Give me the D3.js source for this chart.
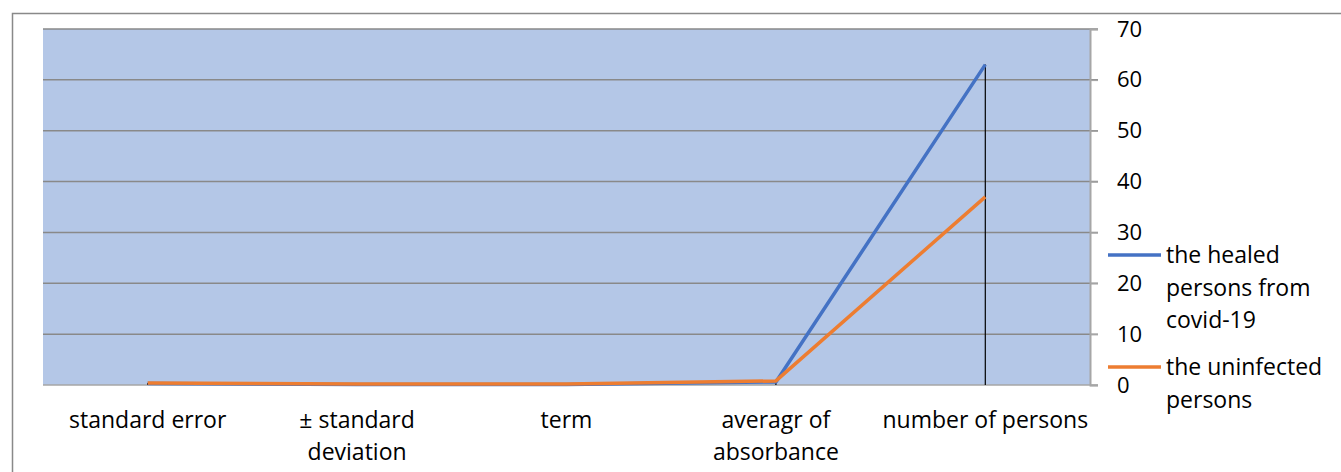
<!DOCTYPE html>
<html lang="en">
<head>
<meta charset="UTF-8">
<title>Chart</title>
<script src="https://d3js.org/d3.v7.min.js"></script>
<style>
  body { margin: 0; background: #fff; }
  text { font-family: "Open Sans", sans-serif; }
</style>
</head>
<body>
<svg width="1341" height="472"></svg>
<script>
let categories = [["standard error"], ["\u00B1 standard", "deviation"], ["term"], ["averagr of", "absorbance"], ["number of persons"]];
let healed = [0.3, 0.1, 0.1, 0.6, 63];
let uninfected = [0.4, 0.2, 0.2, 0.8, 37];
let yTicks = [0, 10, 20, 30, 40, 50, 60, 70];
let seriesNames = [["the healed", "persons from", "covid-19"], ["the uninfected", "persons"]];

let svg = d3.select("svg");

// chart frame
svg.append("rect")
  .attr("x", 12.5).attr("y", 13.5)
  .attr("width", 1340).attr("height", 470)
  .attr("fill", "#fff").attr("stroke", "#898989").attr("stroke-width", 1.5);

let pLeft = 43, pRight = 1090, pTop = 29, pBottom = 385;

let x = d3.scaleBand().domain(d3.range(categories.length)).range([pLeft, pRight]);
let y = d3.scaleLinear().domain([0, 70]).range([pBottom, pTop]);

svg.append("rect")
  .attr("x", pLeft).attr("y", pTop)
  .attr("width", pRight - pLeft).attr("height", pBottom - pTop)
  .attr("fill", "#B4C7E7");

// gridlines
svg.append("g").selectAll("line")
  .data(yTicks.filter(d => d > 0)).enter().append("line")
  .attr("x1", pLeft).attr("x2", pRight + 8)
  .attr("y1", d => y(d)).attr("y2", d => y(d))
  .attr("stroke", "#898989").attr("stroke-width", 1.5);

// right axis
let axis = svg.append("g")
  .attr("transform", `translate(${pRight},0)`)
  .call(d3.axisRight(y).tickValues(yTicks).tickSize(8).tickPadding(19));
axis.select(".domain").attr("stroke", "#A6A6A6").attr("stroke-width", 2);
axis.selectAll(".tick line").attr("stroke", "#A6A6A6").attr("stroke-width", 1.5);
axis.selectAll(".tick text").attr("font-size", "22px").attr("fill", "#000")
  .style("font-family", "'Open Sans', sans-serif");

// bottom axis line
svg.append("line")
  .attr("x1", pLeft).attr("x2", pRight + 8)
  .attr("y1", pBottom).attr("y2", pBottom)
  .attr("stroke", "#A6A6A6").attr("stroke-width", 1.5);

let cx = i => x(i) + x.bandwidth() / 2;

// drop lines
svg.append("g").selectAll("line")
  .data(d3.range(categories.length)).enter().append("line")
  .attr("x1", cx).attr("x2", cx)
  .attr("y1", i => y(Math.max(healed[i], uninfected[i])))
  .attr("y2", y(0))
  .attr("stroke", "#000").attr("stroke-width", 1.2);

let line = d3.line().x((d, i) => cx(i)).y(d => y(d));

svg.append("path").datum(healed)
  .attr("d", line).attr("fill", "none")
  .attr("stroke", "#4472C4").attr("stroke-width", 3.5).attr("stroke-linejoin", "round");
svg.append("path").datum(uninfected)
  .attr("d", line).attr("fill", "none")
  .attr("stroke", "#ED7D31").attr("stroke-width", 3.5).attr("stroke-linejoin", "round");

// category labels
let cat = svg.append("g").selectAll("text")
  .data(categories).enter().append("text")
  .attr("x", (d, i) => cx(i)).attr("y", 428)
  .attr("text-anchor", "middle").attr("font-size", "23px").attr("fill", "#000");
cat.selectAll("tspan").data(d => d).enter().append("tspan")
  .attr("x", function () { return d3.select(this.parentNode).attr("x"); })
  .attr("dy", (d, i) => i === 0 ? 0 : 32)
  .text(d => d);

// legend
let colors = ["#4472C4", "#ED7D31"];
let legendY = [255, 367];
let lg = svg.append("g").selectAll("g")
  .data(seriesNames).enter().append("g");
lg.append("line")
  .attr("x1", 1108).attr("x2", 1161)
  .attr("y1", (d, i) => legendY[i]).attr("y2", (d, i) => legendY[i])
  .attr("stroke", (d, i) => colors[i]).attr("stroke-width", 3.5);
let lt = lg.append("text")
  .attr("x", 1166).attr("y", (d, i) => legendY[i] + 8)
  .attr("font-size", "23px").attr("fill", "#000");
lt.selectAll("tspan").data(d => d).enter().append("tspan")
  .attr("x", 1166).attr("dy", (d, i) => i === 0 ? 0 : 32.5)
  .text(d => d);
</script>
</body>
</html>
